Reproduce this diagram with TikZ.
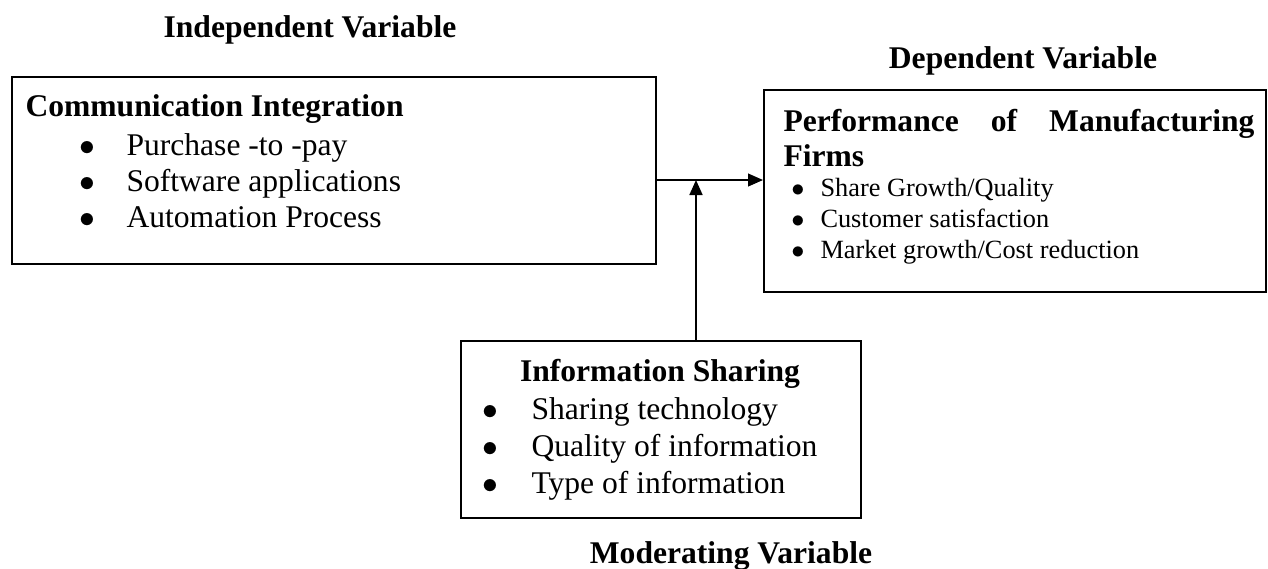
\documentclass[tikz,border=0pt]{standalone}
\usepackage{fontspec}
\setmainfont{Liberation Serif}
\usetikzlibrary{arrows.meta}
\tikzstyle{box} = [draw, rectangle, line width=0.6pt, inner sep=0pt, anchor=north west]
\tikzstyle{headtext} = [font=\fontsize{12}{14}\selectfont\bfseries, inner sep=0pt, anchor=base]
\tikzstyle{titletext} = [headtext, anchor=base west]
\tikzstyle{itemtext} = [font=\fontsize{12}{14}\selectfont, inner sep=0pt, anchor=base west]
\tikzstyle{smallitem} = [itemtext, font=\fontsize{10}{12}\selectfont]
\tikzstyle{bul} = [font=\fontsize{12}{14}\selectfont, inner sep=0pt, anchor=base]
\tikzstyle{arrow} = [line width=0.5pt, -{Triangle[length=5.7pt, width=4.9pt]}]

\begin{document}
\begin{tikzpicture}[x=0.38pt, y=-0.38pt]
        \useasboundingbox (0,0) rectangle (1268,568);
        % headings
        \node (indep) [headtext] at (310,37) {Independent Variable};
        \node (dep) [headtext] at (1023,68) {Dependent Variable};
        \node (moder) [headtext] at (731,563) {Moderating Variable};

        % boxes
        \node (ci) [box, minimum width=244.7pt, minimum height=71.1pt] at (11,76) {};
        \node (perf) [box, minimum width=190.8pt, minimum height=76.8pt] at (763,89) {};
        \node (info) [box, minimum width=152pt, minimum height=67.3pt] at (460,340) {};

        % communication integration
        \node (citl) [titletext] at (25,116) {Communication Integration};
        \foreach \txt [count=\i] in {Purchase -to -pay, Software applications, Automation Process}{
            \node (cib\i) [bul] at (87,{155+36*(\i-1)}) {$\bullet$};
            \node (ci\i) [itemtext] at (126,{155+36*(\i-1)}) {\txt};
        }

        % performance
        \node (pt1) [titletext] at (783,131) {Performance};
        \node (pt2) [headtext] at (1004,131) {of};
        \node (pt3) [titletext, anchor=base east] at (1255,131) {Manufacturing};
        \node (pt4) [titletext] at (783,166) {Firms};
        \foreach \txt [count=\i] in {{Share Growth/Quality}, {Customer satisfaction}, {Market growth/Cost reduction}}{
            \node (pfb\i) [bul, font=\fontsize{10}{12}\selectfont] at (798,{196+31*(\i-1)}) {$\bullet$};
            \node (pf\i) [smallitem] at (820,{196+31*(\i-1)}) {\txt};
        }

        % information sharing
        \node (istl) [headtext] at (660,381) {Information Sharing};
        \foreach \txt [count=\i] in {Sharing technology, Quality of information, Type of information}{
            \node (isb\i) [bul] at (490,{419+37*(\i-1)}) {$\bullet$};
            \node (is\i) [itemtext] at (531,{419+37*(\i-1)}) {\txt};
        }

        % connectors
        \coordinate (join) at (696,180);
        \draw [arrow] (ci.east |- join) -- (perf.west |- join);
        \draw [arrow, line width=0.8pt] (info.north -| join) -- (join);
\end{tikzpicture}
\end{document}
